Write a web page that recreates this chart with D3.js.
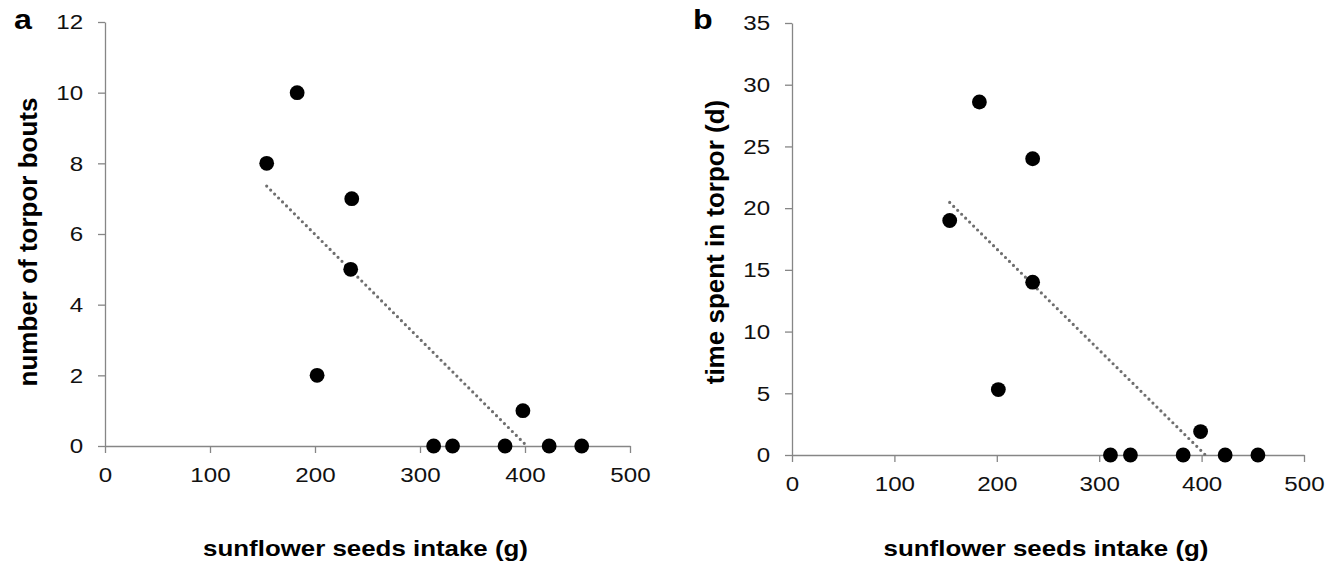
<!DOCTYPE html>
<html>
<head>
<meta charset="utf-8">
<script src="https://cdn.jsdelivr.net/npm/d3@7"></script>
<style>
    body { margin: 0; background: #fff; }
    text { font-family: "Liberation Sans", Arial, sans-serif; }
</style>
</head>
<body>
<div id="chart_div"></div>
<script>
    // seed intake (g) per animal
    const intakeA = [154, 183, 235, 234, 202, 313, 331, 381, 398, 423, 454];
    const boutsA = [8, 10, 7, 5, 2, 0, 0, 0, 1, 0, 0];

    const intakeB = [154, 183, 235, 235, 201.5, 311, 330.5, 382, 399, 423, 455];
    const torporDaysB = [19, 28.6, 24, 14, 5.3, 0, 0, 0, 1.9, 0, 0];

    const xTicks = [0, 100, 200, 300, 400, 500];
    const yTicksA = [0, 2, 4, 6, 8, 10, 12];
    const yTicksB = [0, 5, 10, 15, 20, 25, 30, 35];

    const width = 1341;
    const height = 565;
    const axisColor = "#868686";
    const stretch = 1.15; // the original figure text is a bit wider than it is tall

    const svg = d3.select("#chart_div")
        .append("svg")
        .attr("width", width)
        .attr("height", height);

    // least squares fit, like the excel linear trendline
    const linearFit = (xs, ys) => {
        const mx = d3.mean(xs);
        const my = d3.mean(ys);
        const sxy = d3.sum(xs, (x, i) => (x - mx) * (ys[i] - my));
        const sxx = d3.sum(xs, x => (x - mx) * (x - mx));
        const slope = sxy / sxx;
        return { slope: slope, intercept: my - slope * mx };
    }

    const panel = (cfg) => {
        const x = d3.scaleLinear().domain([0, 500]).range([cfg.left, cfg.right]);
        const y = d3.scaleLinear().domain([0, cfg.yMax]).range([cfg.bottom, cfg.top]);
        const g = svg.append("g");

        const xAxis = g.append("g")
            .attr("transform", `translate(0, ${cfg.bottom})`)
            .call(d3.axisBottom(x).tickValues(xTicks).tickSize(7).tickPadding(14).tickSizeOuter(0));

        const yAxis = g.append("g")
            .attr("transform", `translate(${cfg.left},0)`)
            .call(d3.axisLeft(y).tickValues(cfg.yTicks).tickSize(7).tickPadding(12).tickSizeOuter(0));

        [xAxis, yAxis].forEach(a => {
            a.select(".domain").attr("stroke", axisColor).attr("stroke-width", 1.3);
            a.selectAll(".tick line").attr("stroke", axisColor).attr("stroke-width", 1.3);
            a.selectAll(".tick text")
                .attr("fill", "#111")
                .attr("transform", `scale(${stretch},1)`)
                .style("font-size", "21px")
                .style("font-family", "'Liberation Sans', Arial, sans-serif");
        });

        // trendline, clipped where it would go below zero
        const fit = linearFit(cfg.xs, cfg.ys);
        const x0 = d3.min(cfg.xs);
        const x1 = Math.min(d3.max(cfg.xs), -fit.intercept / fit.slope);
        g.append("line")
            .attr("x1", x(x0))
            .attr("y1", y(fit.slope * x0 + fit.intercept))
            .attr("x2", x(x1))
            .attr("y2", y(fit.slope * x1 + fit.intercept))
            .attr("stroke", "#6f6f6f")
            .attr("stroke-width", 3.2)
            .attr("stroke-linecap", "round")
            .attr("stroke-dasharray", "0 5.6");

        g.append("g")
            .selectAll("circle")
            .data(cfg.xs.map((v, i) => [v, cfg.ys[i]]))
            .enter()
            .append("circle")
            .attr("cx", d => x(d[0]))
            .attr("cy", d => y(d[1]))
            .attr("r", 7.4)
            .attr("fill", "#000");

        g.append("text")
            .attr("transform", `translate(${(cfg.left + cfg.right) / 2 - 2}, 556) scale(${stretch},1)`)
            .attr("text-anchor", "middle")
            .style("font-size", "22.5px")
            .style("font-weight", "bold")
            .text("sunflower seeds intake (g)");

        g.append("text")
            .attr("transform", `translate(${cfg.left - 68}, 242) rotate(-90)`)
            .attr("text-anchor", "middle")
            .style("font-size", "26px")
            .style("font-weight", "bold")
            .text(cfg.yTitle);

        g.append("text")
            .attr("transform", `translate(${cfg.left - cfg.tagOffset}, 29) scale(${stretch},1)`)
            .style("font-size", "28px")
            .style("font-weight", "bold")
            .text(cfg.tag);
    }

    panel({
        left: 105, right: 630, top: 22, bottom: 446,
        yMax: 12, yTicks: yTicksA,
        xs: intakeA, ys: boutsA,
        yTitle: "number of torpor bouts", tag: "a", tagOffset: 91
    });

    panel({
        left: 792, right: 1304, top: 23, bottom: 455,
        yMax: 35, yTicks: yTicksB,
        xs: intakeB, ys: torporDaysB,
        yTitle: "time spent in torpor (d)", tag: "b", tagOffset: 99
    });
</script>
</body>
</html>
